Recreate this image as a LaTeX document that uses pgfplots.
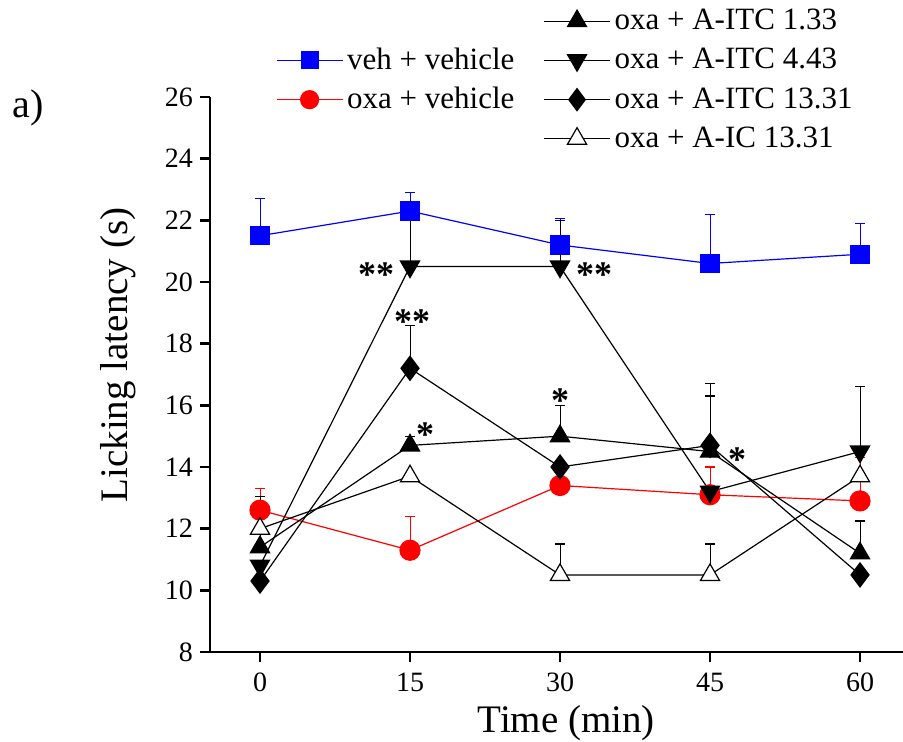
\documentclass[border=0pt]{standalone}
\usepackage{fontspec}
\setmainfont{Liberation Serif}
\usepackage{pgfplots}
\pgfplotsset{compat=1.18}

\pgfplotstableread{
x  y     e
0  21.5  1.2
15 22.3  0.6
30 21.2  0.85
45 20.6  1.6
60 20.9  1.0
}\vehveh
\pgfplotstableread{
x  y     e
0  12.6  0.7
15 11.3  1.1
30 13.4  0.6
45 13.1  0.9
60 12.9  1.4
}\oxaveh
\pgfplotstableread{
x  y     e
0  11.4  1.2
15 14.7  0.3
30 15.0  1.0
45 14.5  2.2
60 11.2  1.05
}\itcA
\pgfplotstableread{
x  y     e
0  10.8  0
15 20.5  1.7
30 20.5  1.5
45 13.2  0
60 14.5  2.1
}\itcB
\pgfplotstableread{
x  y     e
0  10.3  0
15 17.2  1.4
30 14.0  0
45 14.7  1.6
60 10.5  0
}\itcC
\pgfplotstableread{
x  y     e
0  12.0  1.05
15 13.7  0
30 10.5  1.0
45 10.5  1.0
60 13.7  0
}\aic

\begin{document}
\begin{tikzpicture}
\begin{axis}[
  at={(0,0)}, anchor=south west,
  scale only axis,
  width=346.5pt, height=277.5pt,
  xmin=-5, xmax=64.3, ymin=8, ymax=26,
  axis x line*=bottom, axis y line*=left,
  axis line style={line width=1.2pt},
  tick style={line width=1.2pt, black},
  tick align=outside,
  major tick length=5pt,
  xtick={0,15,30,45,60},
  ytick={8,10,...,26},
  /pgf/number format/assume math mode=true,
  tick label style={font=\fontsize{14}{16}\selectfont},
  x tick label style={yshift=-2pt},
  label style={font=\fontsize{19.5}{22}\selectfont},
  xlabel={Time (min)},
  ylabel={Licking latency (s)},
  x label style={at={(axis description cs:0.514,-0.128)}, anchor=center},
  y label style={at={(axis description cs:-0.133,0.535)}, anchor=center},
  clip=false,
  every axis plot/.append style={line width=0.6pt},
  error bars/y dir=plus,
  error bars/y explicit,
  error bars/error mark options={rotate=90, mark size=2.5pt, line width=0.6pt},
  legend columns=2,
  legend cell align=left,
  legend style={draw=none, fill=none, font=\fontsize{15.5}{18}\selectfont,
    at={(rel axis cs:0.086,1.173)}, anchor=north west,
    /tikz/every even column/.append style={column sep=12.5pt},
    row sep=3.5pt},
  legend image code/.code={\draw[mark repeat=2, mark phase=2, #1] plot coordinates {(0pt,0pt) (16.5pt,0pt) (33pt,0pt)};},
]
% data
\addplot[blue, mark=square*, mark size=4.5pt, error bars/error bar style={blue}, forget plot]
  table[x=x, y=y, y error=e] {\vehveh};
\addplot[red, mark=*, mark size=5pt, error bars/error bar style={red}, forget plot]
  table[x=x, y=y, y error=e] {\oxaveh};
\addplot[black, mark=triangle*, mark size=5.5pt, error bars/error bar style={black}, forget plot]
  table[x=x, y=y, y error=e] {\itcA};
\addplot[black, mark=triangle*, mark size=5.5pt, mark options={rotate=180}, error bars/error bar style={black}, forget plot]
  table[x=x, y=y, y error=e] {\itcB};
\addplot[black, mark=diamond*, mark size=6pt, error bars/error bar style={black}, forget plot]
  table[x=x, y=y, y error=e] {\itcC};
\addplot[black, mark=triangle*, mark size=5.5pt, mark options={fill=white}, error bars/error bar style={black}, forget plot]
  table[x=x, y=y, y error=e] {\aic};
% legend
\addlegendimage{empty legend}\addlegendentry{}
\addlegendimage{black, line width=0.6pt, mark=triangle*, mark size=5.5pt}\addlegendentry{oxa + A-ITC 1.33}
\addlegendimage{blue, line width=0.6pt, mark=square*, mark size=4.2pt}\addlegendentry{veh + vehicle}
\addlegendimage{black, line width=0.6pt, mark=triangle*, mark size=5.5pt, mark options={rotate=180}}\addlegendentry{oxa + A-ITC 4.43}
\addlegendimage{red, line width=0.6pt, mark=*, mark size=4.5pt}\addlegendentry{oxa + vehicle}
\addlegendimage{black, line width=0.6pt, mark=diamond*, mark size=5.5pt}\addlegendentry{oxa + A-ITC 13.31}
\addlegendimage{empty legend}\addlegendentry{}
\addlegendimage{black, line width=0.6pt, mark=triangle*, mark size=5.5pt, mark options={fill=white}}\addlegendentry{oxa + A-IC 13.31}
% significance marks
\node[font=\fontsize{18}{20}\selectfont\bfseries] at (axis cs:11.6,20.25) {**};
\node[font=\fontsize{18}{20}\selectfont\bfseries] at (axis cs:15.2,18.7) {**};
\node[font=\fontsize{18}{20}\selectfont\bfseries] at (axis cs:33.4,20.25) {**};
\node[font=\fontsize{18}{20}\selectfont\bfseries] at (axis cs:16.5,15.05) {*};
\node[font=\fontsize{18}{20}\selectfont\bfseries] at (axis cs:30.0,16.15) {*};
\node[font=\fontsize{18}{20}\selectfont\bfseries] at (axis cs:47.7,14.25) {*};
\end{axis}
\node[font=\fontsize{20}{23}\selectfont] at (-91pt,272pt) {a)};
\pgfresetboundingbox
\path (-105pt,-45pt) rectangle (346.5pt,326pt);
\end{tikzpicture}
\end{document}
